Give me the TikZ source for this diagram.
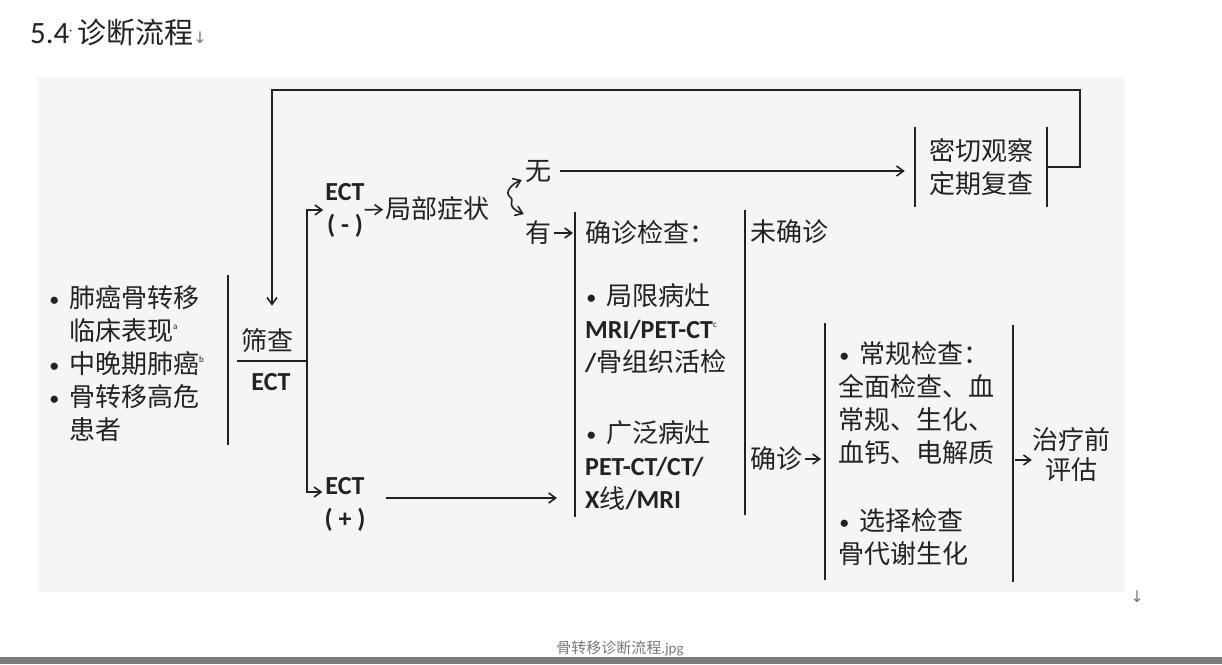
\documentclass[tikz,border=0pt]{standalone}
\usepackage{fontspec}
\setmainfont{Noto Sans CJK SC}
\newfontfamily\latfont{Carlito}
\newfontfamily\symfont{DejaVu Sans}
\usetikzlibrary{positioning,arrows.meta}
\definecolor{ink}{RGB}{34,34,34}
\definecolor{panel}{RGB}{245,244,246}
\definecolor{mark}{RGB}{120,120,120}
\definecolor{strip}{RGB}{122,122,122}
\newcommand\entxt[1]{{\latfont\bfseries #1}}
\newcommand\bul{\makebox[21pt][l]{\hspace{2pt}\raisebox{2pt}{\latfont\bfseries\fontsize{17}{17}\selectfont\textbullet}}}
\newcommand\supmark[1]{\raisebox{11pt}{\fontsize{9}{9}\selectfont\latfont #1}}

\begin{document}
\begin{tikzpicture}[
  x=1pt,y=-1pt,
  every node/.style={font=\fontsize{26}{33}\selectfont,inner sep=0pt,text=ink},
  txt/.style={anchor=west,align=left},
  bar/.style={draw=ink,line width=1.8pt},
  arrow/.style={-{Straight Barb[length=7pt,width=10pt]},line width=1.6pt,draw=ink}
]
  \useasboundingbox (0,0) rectangle (1222,664);
  \fill[panel] (38,77) rectangle (1125,592);
  \fill[strip] (0,657) rectangle (1222,664);

  % heading and file name
  \node[txt,font=\fontsize{29}{30}\selectfont] (title) at (30,33) {{\latfont\fontsize{31}{31}\selectfont 5.4}\raisebox{9pt}{\fontsize{12}{12}\selectfont\latfont ·}\hspace{5pt}诊断流程{\color{mark}\fontsize{16}{16}\selectfont\symfont ↓}};
  \node[text=mark,font=\fontsize{16}{16}\selectfont\symfont] (endmark) at (1137,597) {↓};
  \node[text=mark,font=\fontsize{15}{15}\selectfont] (caption) at (620,648) {骨转移诊断流程{\latfont .jpg}};

  % patients and screening
  \node[txt] (risk) at (48,364) {\bul 肺癌骨转移\\\hspace{21pt}临床表现\supmark{a}\\\bul 中晚期肺癌\supmark{b}\\\bul 骨转移高危\\\hspace{21pt}患者};
  \draw[bar] (228,275) -- (228,445);
  \node (screen) at (267,341) {筛查};
  \node (screenect) at (271,382) {\entxt{ECT}};
  \coordinate (split) at (307,361);
  \draw[bar] (237,361) -- (split);

  \node[align=center] (ectneg) at (345,210) {\entxt{ECT}\\\entxt{( - )}};
  \node[align=center] (ectpos) at (345,504) {\entxt{ECT}\\\entxt{( + )}};
  \draw[arrow] (split) |- ([xshift=-2pt]ectneg.west);
  \draw[arrow] (split) |- ([shift={(-2,-12)}]ectpos.west);

  % negative branch
  \node[txt] (symptom) at (385,209) {局部症状};
  \draw[arrow,shorten >=2pt] (ectneg) -- (symptom);
  \node (none) at (538,171) {无};
  \node (yes) at (538,233) {有};
  \coordinate (fork) at (510,197);
  \draw[arrow] (fork) .. controls (504,192) and (512,184) .. ([shift={(-3,9)}]none.west);
  \draw[arrow] (fork) .. controls (516,201) and (504,206) .. ([shift={(-1,-19)}]yes.west);

  \node[minimum width=132pt,minimum height=80pt,align=center] (observe) at (981,167) {密切观察\\定期复查};
  \draw[bar] (observe.north west) -- (observe.south west);
  \draw[bar] (observe.north east) -- (observe.south east);
  \draw[arrow,shorten <=9pt,shorten >=10pt] (none.east) -- (none.east -| observe.west);
  \draw[arrow,shorten >=23pt] (observe.east) -- ++(33,0) -- ++(0,-77) -| ([xshift=5pt]screen.north);

  % diagnostic work-up
  \draw[bar] (575,212) -- (575,517);
  \node[txt] (checktitle) at (585,233) {确诊检查：};
  \draw[arrow,shorten <=3pt,shorten >=12pt] (yes.east) -- (yes.east -| checktitle.west);
  \node[txt] (local) at (585,329) {\bul 局限病灶\\\entxt{MRI/PET-CT}\supmark{c}\\\entxt{/}骨组织活检};
  \node[txt] (wide) at (585,466) {\bul 广泛病灶\\\entxt{PET-CT/CT/}\\\entxt{X}线\entxt{/MRI}};
  \draw[arrow] ([shift={(20,-6)}]ectpos.east) -- ([shift={(-28,-6)}]ectpos.east -| wide.west);

  \draw[bar] (745,210) -- (745,515);
  \node[txt] (undiag) at (750,232) {未确诊};
  \node[txt] (diag) at (750,459) {确诊};
  \coordinate (barfour) at (825,323);
  \draw[bar] (barfour) -- (825,580);
  \draw[arrow,shorten <=3pt,shorten >=4pt] (diag.east) -- (diag.east -| barfour);

  % staging before treatment
  \node[txt] (routine) at (838,403) {\bul 常规检查：\\全面检查、血\\常规、生化、\\血钙、电解质};
  \node[txt] (optional) at (838,537) {\bul 选择检查\\骨代谢生化};
  \coordinate (barfive) at (1013,325);
  \draw[bar] (barfive) -- (1013,582);
  \node[align=center,font=\fontsize{26}{30}\selectfont] (pretreat) at (1071,455) {治疗前\\评估};
  \draw[arrow,shorten <=2pt] ([yshift=-5pt]pretreat.west -| barfive) -- ([yshift=-5pt]pretreat.west);
\end{tikzpicture}
\end{document}
